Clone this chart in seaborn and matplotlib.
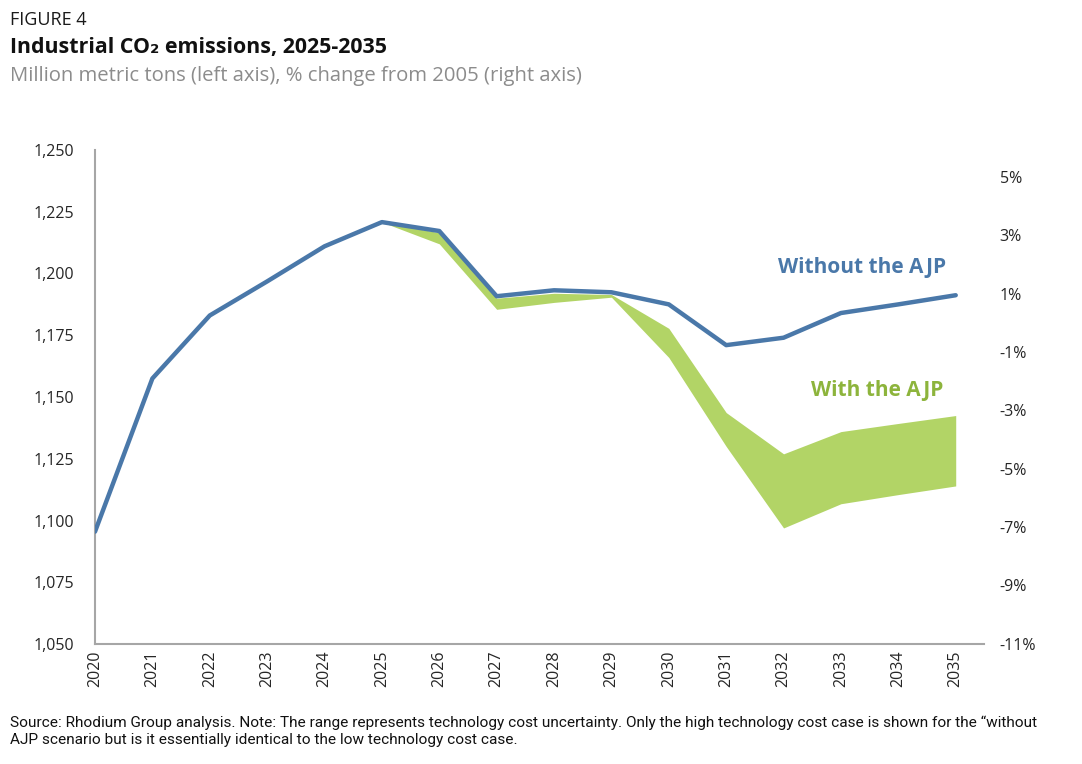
import matplotlib
matplotlib.use("Agg")
import matplotlib.pyplot as plt
import seaborn as sns
import pandas as pd
import numpy as np

# ---- data ----
years = list(range(2020, 2036))
without_ajp = [1095.5, 1157.5, 1183.0, 1196.8, 1211.0, 1220.8, 1217.2, 1190.8,
               1193.2, 1192.4, 1187.5, 1171.0, 1174.0, 1184.0, 1187.5, 1191.2]
band_years = list(range(2025, 2036))
with_ajp_high = [1220.8, 1216.5, 1190.0, 1192.0, 1191.5, 1177.8, 1143.7,
                 1127.0, 1136.0, 1139.3, 1142.5]
with_ajp_low = [1220.8, 1212.0, 1185.5, 1188.3, 1190.4, 1166.0, 1130.0,
                1097.0, 1106.8, 1110.5, 1114.0]
left_ticks = [1050, 1075, 1100, 1125, 1150, 1175, 1200, 1225, 1250]
right_ticks = [-11, -9, -7, -5, -3, -1, 1, 3, 5]
base_2005 = 1180.0

BLUE = "#4a78a9"
GREEN = "#b2d466"
GREEN_TXT = "#8db43c"
GRAY_SPINE = "#a6a6a6"

sns.set_style("white")
plt.rcParams["font.family"] = ["Open Sans", "DejaVu Sans"]

fig = plt.figure(figsize=(10.82, 7.64), dpi=100)
ax = fig.add_axes([0.0878, 0.157, 0.822, 0.6467])

df = pd.DataFrame({"year": years, "value": without_ajp})
ax.fill_between(band_years, with_ajp_low, with_ajp_high, color=GREEN, lw=0, zorder=2)
sns.lineplot(data=df, x="year", y="value", ax=ax, color=BLUE, lw=3.2, zorder=3)

ax.set_xlim(2020, 2035.5)
ax.set_ylim(1050, 1250)
ax.set_yticks(left_ticks)
ax.set_yticklabels([f"{v:,}" for v in left_ticks], fontsize=11.5, color="#262626")
ax.set_xticks(years)
ax.set_xticklabels([str(y) for y in years], rotation=90, fontsize=11.5, color="#262626")
ax.set_xlabel("")
ax.set_ylabel("")
ax.tick_params(axis="both", length=0)
ax.tick_params(axis="y", pad=15)
ax.tick_params(axis="x", pad=5)
for s in ["top", "right"]:
    ax.spines[s].set_visible(False)
for s in ["left", "bottom"]:
    ax.spines[s].set_color(GRAY_SPINE)
    ax.spines[s].set_linewidth(1.5)

ax2 = ax.twinx()
ax2.set_ylim((1050 / base_2005 - 1) * 100, (1250 / base_2005 - 1) * 100)
ax2.set_yticks(right_ticks)
ax2.set_yticklabels([f"{v}%" for v in right_ticks], fontsize=11.5, color="#262626")
ax2.tick_params(axis="y", length=0, pad=11)
for s in ax2.spines.values():
    s.set_visible(False)

ax.text(2033.36, 1202.3, "Without the AJP", color=BLUE, fontsize=15, fontweight="bold",
        ha="center", va="center")
ax.text(2033.64, 1152.8, "With the AJP", color=GREEN_TXT, fontsize=15, fontweight="bold",
        ha="center", va="center")

fig.text(0.009, 0.985, "FIGURE 4", fontsize=13, color="#1a1a1a", va="top")
fig.text(0.009, 0.951, "Industrial CO\u2082 emissions, 2025-2035", fontsize=15.4,
         fontweight="bold", color="#111111", va="top")
fig.text(0.009, 0.914, "Million metric tons (left axis), % change from 2005 (right axis)",
         fontsize=14.6, color="#8c8c8c", va="top")

foot = ("Source: Rhodium Group analysis. Note: The range represents technology cost uncertainty. "
        "Only the high technology cost case is shown for the \u201cwithout\n"
        "AJP scenario but is it essentially identical to the low technology cost case.")
fig.text(0.009, 0.063, foot, fontsize=11.1,
         family=["Liberation Sans Narrow", "Roboto", "DejaVu Sans"],
         color="#111111", va="top", linespacing=1.2)

fig.savefig("out.png", dpi=100)
